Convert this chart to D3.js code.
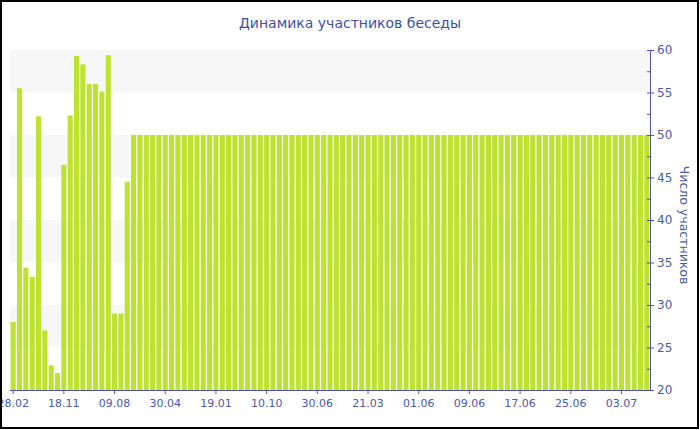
<!DOCTYPE html>
<html><head><meta charset="utf-8">
<script src="https://cdn.jsdelivr.net/npm/d3@7"></script>
<style>body{margin:0;background:#fff}svg{display:block}</style>
</head><body>
<svg id="c" width="700" height="430"></svg>
<script>
const title = "Динамика участников беседы";
const yTitle = "Число участников";
const values = [
  28, 55.5, 34.4, 33.3, 52.2, 27, 22.9, 22, 46.5, 52.3,
  59.3, 58.3, 56, 56, 55.1, 59.4, 29, 29, 44.5, 50,
  50, 50, 50, 50, 50, 50, 50, 50, 50, 50,
  50, 50, 50, 50, 50, 50, 50, 50, 50, 50,
  50, 50, 50, 50, 50, 50, 50, 50, 50, 50,
  50, 50, 50, 50, 50, 50, 50, 50, 50, 50,
  50, 50, 50, 50, 50, 50, 50, 50, 50, 50,
  50, 50, 50, 50, 50, 50, 50, 50, 50, 50,
  50, 50, 50, 50, 50, 50, 50, 50, 50, 50,
  50, 50, 50, 50, 50, 50, 50, 50, 50, 50,
  50
];
const tickIndex = [0, 8, 16, 24, 32, 40, 48, 56, 64, 72, 80, 88, 96];
const tickLabels = ["28.02","18.11","09.08","30.04","19.01","10.10","30.06","21.03","01.06","09.06","17.06","25.06","03.07"];
const yTicks = [20, 25, 30, 35, 40, 45, 50, 55, 60];
const yMinorTicks = [22.5, 27.5, 32.5, 37.5, 42.5, 47.5, 52.5, 57.5];
const bands = [[25, 30], [35, 40], [45, 50], [55, 60]];

const svg = d3.select("#c");
const L = 10, R = 650, T = 50, B = 390;
const font = "DejaVu Sans, Verdana, sans-serif";
const blue = "#4a5ba6";

const x = d3.scaleBand().domain(d3.range(values.length)).range([L, R]).paddingInner(0.2).paddingOuter(0.1);
const y = d3.scaleLinear().domain([20, 60]).range([B, T]);

// bands
svg.append("g").selectAll("rect").data(bands).join("rect")
  .attr("x", L).attr("width", R - L)
  .attr("y", d => y(d[1])).attr("height", d => y(d[0]) - y(d[1]))
  .attr("fill", "#f7f7f7");

// bars
svg.append("g").selectAll("rect").data(values).join("rect")
  .attr("x", (d, i) => x(i)).attr("width", x.bandwidth())
  .attr("y", d => y(d)).attr("height", d => y(20) - y(d))
  .attr("fill", "#bde22f");

// bottom axis
const xAxis = d3.axisBottom(x).tickValues(tickIndex)
  .tickFormat(i => tickLabels[tickIndex.indexOf(i)]).tickSize(4).tickSizeOuter(0);
const gx = svg.append("g").attr("transform", `translate(0,${B})`).call(xAxis);
gx.select(".domain").attr("stroke", blue).attr("d", `M${L},0.5H${R}`);
gx.selectAll(".tick line").attr("stroke", blue);
gx.selectAll(".tick text").attr("fill", blue).attr("font-family", font).attr("font-size", 11).attr("dy", "0.95em");

// right axis
const yAxis = d3.axisRight(y).tickValues(yTicks).tickSize(4).tickSizeOuter(0).tickPadding(3);
const gy = svg.append("g").attr("transform", `translate(${R},0)`).call(yAxis);
gy.select(".domain").attr("stroke", blue);
gy.selectAll(".tick line").attr("stroke", blue).attr("x1", -3);
gy.selectAll(".tick text").attr("fill", blue).attr("font-family", font).attr("font-size", 12);
gy.append("g").selectAll("line").data(yMinorTicks).join("line")
  .attr("x1", -3).attr("x2", 0).attr("y1", d => y(d) + 0.5).attr("y2", d => y(d) + 0.5)
  .attr("stroke", blue);

// y title
svg.append("text")
  .attr("transform", `translate(680,${(T + B) / 2 + 5}) rotate(90)`)
  .attr("text-anchor", "middle").attr("font-family", font).attr("font-size", 12.5)
  .attr("fill", blue).text(yTitle);

// title
svg.append("text").attr("x", 350).attr("y", 28).attr("text-anchor", "middle")
  .attr("font-family", font).attr("font-size", 14).attr("fill", "#3f50a0").text(title);

// frame
svg.append("rect").attr("x", 1).attr("y", 1).attr("width", 697).attr("height", 427)
  .attr("fill", "none").attr("stroke", "#000").attr("stroke-width", 2);
</script>
</body></html>
